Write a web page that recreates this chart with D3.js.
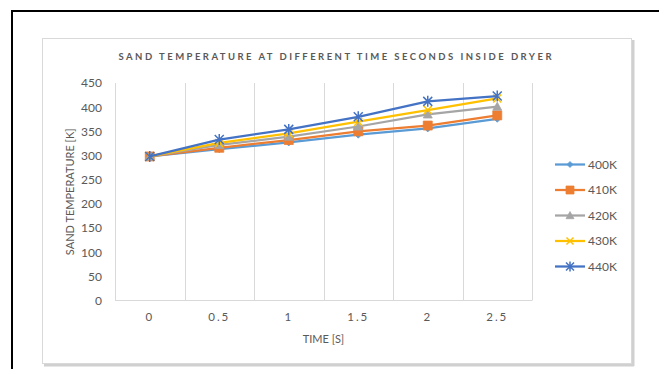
<!DOCTYPE html>
<html>
<head>
<meta charset="utf-8">
<script src="https://d3js.org/d3.v7.min.js"></script>
<style>
    body { margin: 0; background: white; }
    .chart text { font-family: "Lato", "Open Sans", sans-serif; fill: #595959; }
    .grid { stroke: #d9d9d9; stroke-width: 1px; }
</style>
</head>
<body>
<svg id="chart" class="chart" width="659" height="369"></svg>
<script>
    // values
    const times = ["0", "0.5", "1", "1.5", "2", "2.5"];
    const seriesNames = ["400K", "410K", "420K", "430K", "440K"];
    const t400 = [298, 313, 327, 343, 356, 376];
    const t410 = [298, 316, 332, 350, 362, 383];
    const t420 = [298, 322, 339, 360, 385, 401];
    const t430 = [298, 326, 346, 370, 394, 418];
    const t440 = [298, 333, 354, 380, 412, 423];
    const yTicks = [0, 50, 100, 150, 200, 250, 300, 350, 400, 450];

    const colors = ["#5b9bd5", "#ed7d31", "#a5a5a5", "#ffc000", "#4472c4"];
    const markers = ["diamond", "square", "triangle", "x", "star"];
    const allValues = [t400, t410, t420, t430, t440];

    const svg = d3.select("#chart");

    // outer black frame
    svg.append("rect")
       .attr("x", 12).attr("y", 11).attr("width", 700).attr("height", 400)
       .attr("fill", "none").attr("stroke", "black").attr("stroke-width", 2);

    // chart area with a little shadow
    svg.append("line").attr("x1", 633).attr("x2", 633).attr("y1", 40).attr("y2", 366)
       .attr("stroke", "#d0d0d0").attr("stroke-width", 3);
    svg.append("line").attr("x1", 44).attr("x2", 634).attr("y1", 365).attr("y2", 365)
       .attr("stroke", "#d0d0d0").attr("stroke-width", 3);
    svg.append("rect")
       .attr("x", 42.5).attr("y", 38.5).attr("width", 589).attr("height", 325)
       .attr("fill", "white").attr("stroke", "#d9d9d9");

    const plot = { left: 115, right: 532, top: 83, bottom: 300.5 };

    const x = d3.scaleBand().domain(times).range([plot.left, plot.right]);
    const y = d3.scaleLinear().domain([0, 450]).range([plot.bottom, plot.top]);

    // vertical gridlines between categories
    const bounds = times.map(t => x(t)).concat([plot.right]);
    svg.selectAll("line.vgrid").data(bounds).join("line")
       .attr("class", "grid vgrid")
       .attr("x1", d => Math.round(d) + 0.5).attr("x2", d => Math.round(d) + 0.5)
       .attr("y1", plot.top).attr("y2", plot.bottom);
    svg.append("line").attr("class", "grid")
       .attr("x1", plot.left).attr("x2", plot.right)
       .attr("y1", plot.bottom).attr("y2", plot.bottom);

    // y axis labels
    const yAxis = svg.append("g")
       .attr("transform", "translate(" + plot.left + ",0)")
       .call(d3.axisLeft(y).tickValues(yTicks).tickSize(0).tickPadding(13));
    yAxis.select(".domain").remove();
    yAxis.selectAll("text").style("font-size", "12px").style("fill", "#595959");

    // x axis labels
    const xAxis = svg.append("g")
       .attr("transform", "translate(0," + plot.bottom + ")")
       .call(d3.axisBottom(x).tickSize(0).tickPadding(12));
    xAxis.select(".domain").remove();
    xAxis.selectAll("text").style("font-size", "11.5px").style("letter-spacing", "2px")
       .style("fill", "#595959");

    // marker shapes
    function markerPath(type, s) {
        const h = s / 2;
        if (type === "diamond") return `M0,${-h}L${h},0L0,${h}L${-h},0Z`;
        if (type === "square") return `M${-h},${-h}H${h}V${h}H${-h}Z`;
        if (type === "triangle") return `M0,${-h}L${h},${h * 0.8}L${-h},${h * 0.8}Z`;
        if (type === "x") return `M${-h},${-h}L${h},${h}M${h},${-h}L${-h},${h}`;
        return `M${-h},${-h}L${h},${h}M${h},${-h}L${-h},${h}M0,${-h - 1}V${h + 1}`;
    }
    const markerSize = { diamond: 7, square: 9, triangle: 9, x: 8, star: 9 };

    const line = d3.line()
       .x((d, i) => x(times[i]) + x.bandwidth() / 2)
       .y(d => y(d));

    allValues.forEach((vals, k) => {
        const g = svg.append("g");
        g.append("path").datum(vals)
           .attr("d", line)
           .attr("fill", "none")
           .attr("stroke", colors[k])
           .attr("stroke-width", 2.25)
           .attr("stroke-linejoin", "round");
        const open = markers[k] === "x" || markers[k] === "star";
        g.selectAll("path.mk").data(vals).join("path")
           .attr("class", "mk")
           .attr("transform", (d, i) => "translate(" + (x(times[i]) + x.bandwidth() / 2) + "," + y(d) + ")")
           .attr("d", markerPath(markers[k], markerSize[markers[k]]))
           .attr("fill", open ? "none" : colors[k])
           .attr("stroke", colors[k])
           .attr("stroke-width", open ? 1.5 : 0.75);
    });

    // legend
    const legend = svg.append("g");
    seriesNames.forEach((name, k) => {
        const ly = 164.5 + k * 25.5;
        legend.append("line")
           .attr("x1", 555).attr("x2", 585).attr("y1", ly).attr("y2", ly)
           .attr("stroke", colors[k]).attr("stroke-width", 2.25);
        const open = markers[k] === "x" || markers[k] === "star";
        legend.append("path")
           .attr("transform", "translate(570," + ly + ")")
           .attr("d", markerPath(markers[k], markerSize[markers[k]] - 1))
           .attr("fill", open ? "none" : colors[k])
           .attr("stroke", colors[k])
           .attr("stroke-width", open ? 1.5 : 0.75);
        legend.append("text")
           .attr("x", 588).attr("y", ly)
           .attr("dy", "0.35em")
           .style("font-size", "12px")
           .text(name);
    });

    // titles
    svg.append("text")
       .attr("x", 335).attr("y", 60)
       .attr("text-anchor", "middle")
       .attr("textLength", 433).attr("lengthAdjust", "spacing")
       .style("font-size", "9.5px").style("font-weight", "bold")
       .text("SAND TEMPERATURE AT DIFFERENT TIME SECONDS INSIDE DRYER");

    svg.append("text")
       .attr("transform", "translate(74," + ((plot.top + plot.bottom) / 2) + ") rotate(-90)")
       .attr("text-anchor", "middle")
       .style("font-size", "11px")
       .text("SAND TEMPERATURE [K]");

    svg.append("text")
       .attr("x", (plot.left + plot.right) / 2).attr("y", 343)
       .attr("text-anchor", "middle")
       .style("font-size", "11px")
       .text("TIME [S]");
</script>
</body>
</html>
